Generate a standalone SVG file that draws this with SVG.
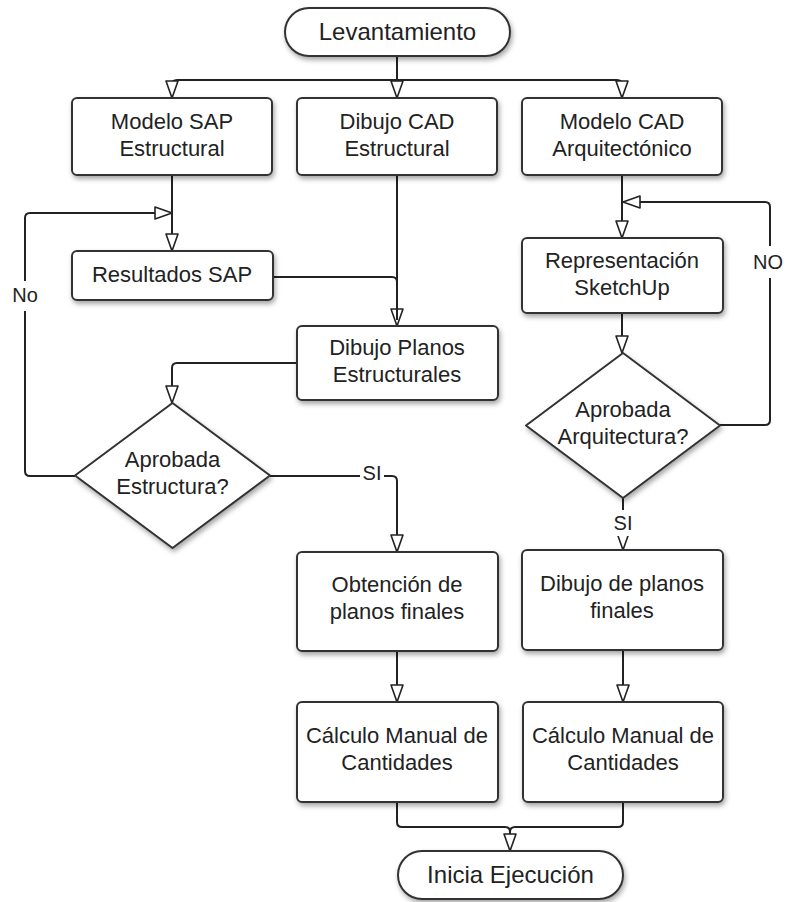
<svg xmlns="http://www.w3.org/2000/svg" width="788" height="902" viewBox="0 0 788 902">
<defs>
<filter id="sh" x="-10%" y="-10%" width="125%" height="135%">
<feDropShadow dx="1.5" dy="3" stdDeviation="2.5" flood-color="#000" flood-opacity="0.35"/>
</filter>
<marker id="ah" markerUnits="userSpaceOnUse" viewBox="-2 -2 21 16" markerWidth="21" markerHeight="16" refX="17" refY="6" orient="auto">
<path d="M0,0 L17,6 L0,12 Z" fill="#fff" stroke="#222" stroke-width="1.6" stroke-linejoin="round"/>
</marker>
</defs>
<style>
.n{fill:#fff;stroke:#333;stroke-width:2;filter:url(#sh)}
.t{font-family:"Liberation Sans",Arial,sans-serif;font-size:22px;fill:#222;text-anchor:middle}
.big{font-size:24px}
.lb{font-family:"Liberation Sans",Arial,sans-serif;font-size:20px;fill:#222;text-anchor:middle}
.c{fill:none;stroke:#222;stroke-width:2;stroke-linejoin:round}
.a{marker-end:url(#ah)}
</style>
<rect width="788" height="902" fill="#fff"/>
<g id="connectors">
<path class="c a" d="M397,56 V98"/>
<path class="c a" d="M397,80 H177 Q172,80 172,85 V98"/>
<path class="c a" d="M397,80 H617 Q622,80 622,85 V98"/>
<path class="c a" d="M172,175 V251"/>
<path class="c a" d="M75,476 H30 Q25,476 25,471 V218 Q25,213 30,213 H172"/>
<path class="c a" d="M397,175 V326"/>
<path class="c" d="M273,277 H392 Q397,277 397,282 V320"/>
<path class="c a" d="M298,363 H177 Q172,363 172,368 V403"/>
<path class="c a" d="M270,476 H392 Q397,476 397,481 V552"/>
<path class="c a" d="M622,175 V238"/>
<path class="c a" d="M720,425 H765 Q770,425 770,420 V207 Q770,202 765,202 H623"/>
<path class="c a" d="M622,313 V353"/>
<path class="c a" d="M623,498 V550"/>
<path class="c a" d="M397,650 V702"/>
<path class="c a" d="M623,650 V702"/>
<path class="c a" d="M397,802 V822 Q397,827 402,827 H505 Q510,827 510,832 V851"/>
<path class="c" d="M623,802 V822 Q623,827 618,827 H515 Q510,827 510,832"/>
<rect x="12" y="281" width="27" height="30" fill="#fff"/>
<text class="lb" x="25" y="302">No</text>
<rect x="752" y="246" width="34" height="32" fill="#fff"/>
<text class="lb" x="768" y="269">NO</text>
<rect x="360" y="463" width="24" height="26" fill="#fff"/>
<text class="lb" x="372" y="480">SI</text>
<rect x="611" y="510" width="24" height="26" fill="#fff"/>
<text class="lb" x="623" y="530">SI</text>
</g>
<g id="levantamiento">
<rect class="n" x="285" y="8" width="225" height="48" rx="24"/>
<text class="t big" x="397.5" y="40">Levantamiento</text>
</g>
<g id="modelo-sap">
<rect class="n" x="72" y="98" width="200" height="77" rx="5"/>
<text class="t" x="172" y="129">Modelo SAP</text>
<text class="t" x="172" y="156">Estructural</text>
</g>
<g id="dibujo-cad">
<rect class="n" x="297" y="98" width="200" height="77" rx="5"/>
<text class="t" x="397" y="129">Dibujo CAD</text>
<text class="t" x="397" y="156">Estructural</text>
</g>
<g id="modelo-cad">
<rect class="n" x="522" y="98" width="200" height="77" rx="5"/>
<text class="t" x="622" y="129">Modelo CAD</text>
<text class="t" x="622" y="156">Arquitectónico</text>
</g>
<g id="resultados-sap">
<rect class="n" x="72" y="251" width="201" height="49" rx="5"/>
<text class="t" x="172" y="282">Resultados SAP</text>
</g>
<g id="dibujo-planos">
<rect class="n" x="297" y="326" width="201" height="74" rx="5"/>
<text class="t" x="397" y="355">Dibujo Planos</text>
<text class="t" x="397" y="382">Estructurales</text>
</g>
<g id="representacion">
<rect class="n" x="522" y="238" width="201" height="75" rx="5"/>
<text class="t" x="622" y="268">Representación</text>
<text class="t" x="622" y="295">SketchUp</text>
</g>
<g id="aprobada-estructura">
<path class="n" d="M172.5,403 L270,475.5 L172.5,548 L75,475.5 Z" stroke-linejoin="round"/>
<text class="t" x="172.5" y="467">Aprobada</text>
<text class="t" x="172.5" y="494">Estructura?</text>
</g>
<g id="aprobada-arquitectura">
<path class="n" d="M623,353 L720,425.5 L623,498 L526,425.5 Z" stroke-linejoin="round"/>
<text class="t" x="623" y="417">Aprobada</text>
<text class="t" x="623" y="444">Arquitectura?</text>
</g>
<g id="obtencion">
<rect class="n" x="297" y="552" width="201" height="99" rx="5"/>
<text class="t" x="397" y="592">Obtención de</text>
<text class="t" x="397" y="619">planos finales</text>
</g>
<g id="dibujo-finales">
<rect class="n" x="522" y="550" width="201" height="100" rx="5"/>
<text class="t" x="622" y="591">Dibujo de planos</text>
<text class="t" x="622" y="618">finales</text>
</g>
<g id="calculo-1">
<rect class="n" x="297" y="702" width="201" height="100" rx="5"/>
<text class="t" x="397" y="743">Cálculo Manual de</text>
<text class="t" x="397" y="770">Cantidades</text>
</g>
<g id="calculo-2">
<rect class="n" x="523" y="702" width="200" height="100" rx="5"/>
<text class="t" x="623" y="743">Cálculo Manual de</text>
<text class="t" x="623" y="770">Cantidades</text>
</g>
<g id="inicia">
<rect class="n" x="398" y="851" width="225" height="48" rx="24"/>
<text class="t big" x="510.5" y="883">Inicia Ejecución</text>
</g>
</svg>
